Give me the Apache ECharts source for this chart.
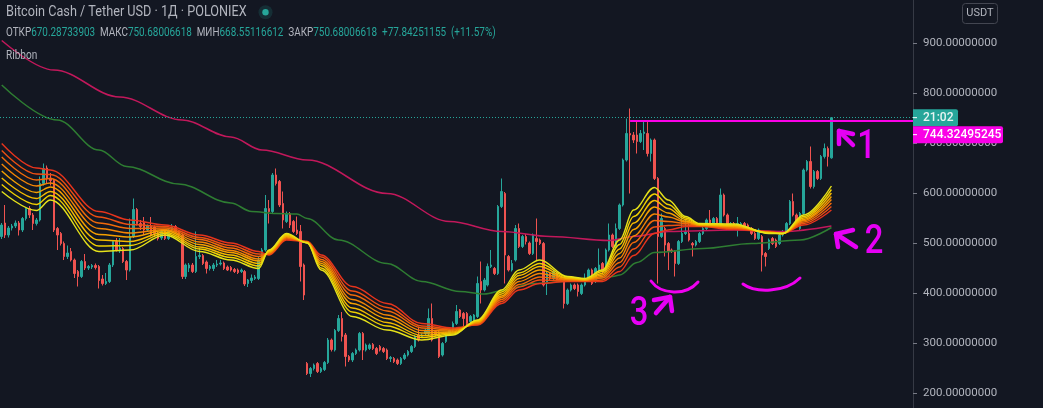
<!DOCTYPE html>
<html><head><meta charset="utf-8">
<script src="https://cdn.jsdelivr.net/npm/echarts@6/dist/echarts.min.js"></script>
<style>html,body{margin:0;padding:0;background:#131722;overflow:hidden}#c{width:1043px;height:408px}</style>
</head><body><div id="c"></div>
<script>
// ---- candles (daily) ----
const opens = [
513,540,516,530,534,540,526,549,569,556,
539,546,619,650,630,625,529,519,499,473,
483,466,443,433,463,450,452,455,453,428,
419,423,456,503,486,489,463,446,513,567,
539,541,526,534,532,519,510,523,509,526,
533,523,516,433,450,456,443,473,475,462,
449,449,456,458,460,452,451,447,446,443,
443,419,425,429,429,466,486,569,563,636,
623,579,543,559,543,526,523,456,259,239,
249,259,243,247,261,306,286,325,349,316,
273,266,279,286,319,286,289,297,289,293,
289,286,269,269,266,259,269,276,283,293,
316,313,319,319,349,323,322,276,303,319,
326,339,366,359,359,343,346,353,423,406,
416,453,449,439,573,599,473,446,466,529,
493,513,500,479,509,506,499,419,439,429,
439,429,426,379,406,416,416,399,416,429,
446,423,446,459,446,486,516,493,529,576,
666,719,716,716,703,719,719,679,706,629,
513,529,499,486,483,459,503,519,519,499,
496,503,519,529,546,539,549,536,596,556,
536,539,536,533,539,536,529,519,509,513,
479,489,509,506,499,516,523,539,583,556,
529,559,646,663,613,643,629,673,689,670.29];
const closes = [
536,516,530,534,540,526,549,569,556,539,
546,619,649,630,625,526,516,499,473,480,
466,439,433,463,450,453,455,451,425,419,
423,456,503,486,490,463,446,513,567,539,
533,526,534,516,519,509,523,509,526,533,
523,516,433,456,456,443,473,475,459,449,
453,456,458,460,449,446,446,443,441,446,
418,426,430,432,466,486,569,563,636,619,
576,546,559,536,523,519,453,396,239,249,
256,243,249,261,306,287,325,349,313,273,
266,279,286,319,286,296,296,289,279,286,
283,269,271,263,259,269,276,283,293,313,
306,316,326,349,306,316,273,299,319,326,
339,363,353,349,339,353,356,419,406,426,
453,456,439,573,603,476,446,459,529,493,
513,503,479,516,503,499,416,439,429,443,
426,426,379,406,416,409,403,416,426,446,
419,449,456,443,486,516,493,529,576,666,
719,716,706,703,719,722,679,706,629,513,
549,496,483,483,459,503,519,522,506,496,
503,519,529,546,539,549,533,596,556,536,
539,533,539,539,529,529,519,509,526,476,
473,506,499,493,516,523,539,583,556,533,
559,646,663,613,643,629,673,689,672.84,750.68];
const lows = [
508,510,511,525,530,515,522,545,550,526,
535,543,615,620,615,522,486,495,466,468,
463,430,413,430,446,446,448,447,409,415,
416,420,452,483,480,460,426,443,510,535,
526,516,522,513,512,505,506,506,506,522,
519,512,428,428,442,440,440,468,456,439,
445,444,452,455,446,444,443,440,438,440,
414,412,420,426,426,463,483,539,560,615,
572,529,540,530,520,516,423,386,236,232,
245,240,240,244,258,283,283,322,303,253,
262,262,276,283,266,283,286,286,276,283,
280,266,262,260,256,256,266,273,280,290,
303,310,316,316,303,313,270,273,300,316,
322,336,350,333,336,340,336,350,379,403,
413,450,436,436,570,419,443,443,463,490,
490,497,476,476,466,496,413,396,426,426,
423,423,369,376,403,406,393,396,413,426,
416,420,443,440,443,483,490,490,526,573,
663,599,700,679,700,686,673,663,626,419,
510,473,446,480,433,456,500,516,503,473,
493,500,516,526,536,536,530,533,553,533,
533,530,513,530,526,526,516,506,506,443,
453,486,496,490,496,513,520,536,553,530,
526,556,643,609,609,626,626,669,653,668.55];
const highs = [
540,576,534,538,545,544,552,572,574,560,
550,633,659,655,640,628,532,522,503,495,
490,469,446,466,478,456,458,459,456,436,
440,460,506,510,510,492,466,549,589,570,
546,552,537,552,535,522,528,526,529,538,
536,526,519,459,460,460,523,490,478,465,
456,460,466,466,463,455,454,450,449,449,
446,428,437,436,473,490,596,586,640,649,
626,603,563,562,546,553,536,459,262,252,
259,262,252,264,310,309,328,356,362,320,
276,282,289,322,322,299,299,300,292,296,
292,289,274,272,269,272,280,286,296,316,
333,319,329,369,379,326,325,302,322,329,
343,376,368,362,362,356,358,433,463,430,
459,486,452,576,629,602,476,466,536,539,
516,518,503,519,549,509,502,442,442,446,
442,432,429,409,419,419,419,419,439,449,
449,452,489,462,489,539,519,539,579,669,
749,769,722,746,726,746,746,709,709,632,
559,532,502,489,486,506,556,546,539,502,
506,522,532,549,566,552,552,609,599,559,
542,542,552,542,542,539,532,522,529,516,
482,509,512,509,519,526,542,586,599,559,
562,649,666,693,646,646,676,699,693,750.68];
const emptyDaysRight = 23;

// ---- moving averages (candle index, value) ----
const ema200Idx = [0,15,34,52,66,75,88,111,129,144,158,175,182,192,211,225,239];
const ema200Val = [905,846,792,746,712,686,666,599,543,523,513,505,513,523,526,523,534];
const ema100Idx = [0,16,28,36,51,66,72,79,85,88,97,111,121,132,139,145,153,168,176,178,183,188,202,216,230,239];
const ema100Val = [816,746,686,653,618,580,563,559,558,549,506,459,423,403,398,406,419,426,433,436,461,481,489,499,506,531];
const ribbonIdx = [0,10,14,28,37,47,57,66,74,77,82,88,92,101,111,121,130,137,144,149,155,163,168,173,178,182,188,192,197,201,211,221,225,231,239];
const ribbon0 = [603,565,586,483,486,516,483,466,449,486,519,500,446,353,326,306,316,346,406,446,466,433,429,446,506,566,611,586,553,539,538,519,519,556,614];
const ribbon1 = [617,577,595,494,495,519,488,471,454,485,517,500,450,362,334,311,318,345,402,440,459,432,428,443,497,553,598,577,550,538,536,520,519,553,607];
const ribbon2 = [630,589,603,506,503,522,492,476,459,483,515,501,455,370,341,315,320,343,398,435,453,430,427,439,488,540,585,569,547,537,535,520,519,550,600];
const ribbon3 = [644,601,612,517,512,525,497,481,464,482,513,501,459,379,349,320,322,342,394,429,446,429,426,436,479,527,572,560,544,536,533,521,519,547,593];
const ribbon4 = [658,614,620,529,520,527,502,485,468,480,512,502,463,387,356,325,324,340,391,423,439,427,426,433,470,514,558,552,542,536,532,521,519,545,587];
const ribbon5 = [672,626,629,540,529,530,507,490,473,479,510,502,467,396,364,330,326,339,387,417,432,426,425,430,461,501,545,543,539,535,530,522,519,542,580];
const ribbon6 = [685,638,637,552,537,533,511,495,478,477,508,503,472,404,371,334,328,337,383,412,426,424,424,426,452,488,532,535,536,534,529,522,519,539,573];
const ribbon7 = [699,650,646,563,546,536,516,500,483,476,506,503,476,413,379,339,330,336,379,406,419,423,423,423,443,475,519,526,533,533,527,523,519,536,566];

const tickValues = [200,300,400,500,600,700,800,900];
const lastClose = 750.68;
const lineLevel = 744.32495245;
const lineStartIdx = 181;

// ---- build ----
const N = opens.length + emptyDaysRight;
const categories = Array.from({length:N}, (_, i) => 'D' + i);
const candleData = opens.map((o, i) => [o, closes[i], lows[i], highs[i]]);
const pairs = (idx, vals) => idx.map((x, k) => [x, vals[k]]);

const ribbons = [ribbon7, ribbon6, ribbon5, ribbon4, ribbon3, ribbon2, ribbon1, ribbon0];
const ribbonColors = ['#e8341c','#ec4f12','#f06a0a','#f38504','#f5a000','#f4ba00','#f0d000','#e6e21a'];

const lineSeries = (vals, idx, color, w) => ({
  type: 'line', xAxisIndex: 1, yAxisIndex: 0,
  data: pairs(idx, vals), showSymbol: false, symbol: 'none',
  smooth: 0.35, smoothMonotone: 'x', silent: true, z: 3,
  lineStyle: {color: color, width: w}
});

const series = [{
  type: 'candlestick', xAxisIndex: 0, yAxisIndex: 0,
  data: candleData, barWidth: 2, z: 2,
  itemStyle: {color: '#26a69a', color0: '#ef5350', borderColor: '#26a69a', borderColor0: '#ef5350', borderWidth: 1}
}];
const pink = lineSeries(ema200Val, ema200Idx, '#c2185b', 1.5);
pink.markLine = {
  silent: true, symbol: ['none','none'], animation: false,
  label: {show: false},
  data: [
    {yAxis: lastClose, lineStyle: {color: '#26a69a', type: [1,2], width: 1}},
    [{coord: [lineStartIdx, lineLevel], lineStyle: {color: '#fa00e6', width: 2, type: 'solid'}}, {coord: [N - 0.5, lineLevel]}]
  ]
};
series.push(pink);
series.push(lineSeries(ema100Val, ema100Idx, '#2e7d32', 1.5));
ribbons.forEach((r, k) => series.push(lineSeries(r, ribbonIdx, ribbonColors[k], 1.4)));

const chart = echarts.init(document.getElementById('c'));
chart.setOption({
  backgroundColor: '#131722',
  animation: false,
  grid: {left: 0, right: 130, top: 0, bottom: 0},
  xAxis: [
    {type: 'category', data: categories, boundaryGap: true, show: false},
    {type: 'value', min: -0.5, max: N - 0.5, show: false}
  ],
  yAxis: {
    type: 'value', position: 'right', min: 170, max: 986,
    splitLine: {show: false},
    axisLine: {show: true, onZero: false, lineStyle: {color: '#363a45', width: 1}},
    axisTick: {show: true, customValues: tickValues, length: 4, lineStyle: {color: '#787b86'}},
    axisLabel: {customValues: tickValues, formatter: v => v.toFixed(8), color: '#b2b5be', fontSize: 11.5, fontFamily: 'Roboto', margin: 10}
  },
  series: series
});

const yLast = chart.convertToPixel({yAxisIndex: 0}, lastClose);
const axisX = 913;
const magenta = '#e600f5';
const arcStyle = {fill:'none', stroke:'#f000f0', lineWidth:3, lineCap:'round'};
const arrowStyle = {fill:'none', stroke:magenta, lineWidth:4.5, lineCap:'round', lineJoin:'round'};
const digitFont = '500 40px Roboto';
const els = [
  {type:'text', x:6, y:12.5, scaleX:0.905, style:{text:'Bitcoin Cash / Tether USD · 1Д · POLONIEX', fill:'#b2b5be', font:'14px Roboto', verticalAlign:'middle'}},
  {type:'circle', shape:{cx:265.5, cy:12.3, r:7}, style:{fill:'rgba(38,166,154,0.16)'}},
  {type:'circle', shape:{cx:265.5, cy:12.3, r:3.2}, style:{fill:'#26a69a'}},
  {type:'text', x:6, y:33, scaleX:0.826, style:{
    text:'{g|ОТКР}{v|670.28733903}  {g|МАКС}{v|750.68006618}  {g|МИН}{v|668.55116612}  {g|ЗАКР}{v|750.68006618}  {v|+77.84251155}  {v|(+11.57%)}',
    font:'12px Roboto', fill:'#26a69a', verticalAlign:'middle',
    rich:{g:{fill:'#b2b5be', font:'12px Roboto'}, v:{fill:'#26a69a', font:'12px Roboto'}}}},
  {type:'text', x:6, y:56, scaleX:0.84, style:{text:'Ribbon', fill:'#b2b5be', font:'12px Roboto', verticalAlign:'middle'}},
  {type:'rect', shape:{x:962.5, y:3.5, width:35, height:20, r:3}, style:{fill:'none', stroke:'#434651', lineWidth:1}},
  {type:'text', x:980, y:13.5, style:{text:'USDT', fill:'#b2b5be', font:'11px Roboto', align:'center', verticalAlign:'middle'}},
  {type:'rect', shape:{x:axisX, y:yLast-8.5, width:45, height:17, r:[0,2,2,0]}, style:{fill:'#26a69a'}},
  {type:'line', shape:{x1:axisX, y1:yLast, x2:axisX+4, y2:yLast}, style:{stroke:'#ffffff', lineWidth:1}},
  {type:'text', x:923, y:yLast, style:{text:'21:02', fill:'#e8f5f3', font:'500 12px Roboto', verticalAlign:'middle'}},
  {type:'rect', shape:{x:axisX, y:yLast+8.5, width:90, height:17, r:[0,2,2,0]}, style:{fill:'#fa00e6'}},
  {type:'line', shape:{x1:axisX, y1:yLast+17, x2:axisX+4, y2:yLast+17}, style:{stroke:'#ffffff', lineWidth:1}},
  {type:'text', x:923, y:yLast+17, style:{text:'744.32495245', fill:'#ffffff', font:'500 12px Roboto', verticalAlign:'middle'}},
  // hand-drawn annotations
  {type:'bezierCurve', shape:{x1:651, y1:281, cpx1:661, cpy1:295, cpx2:686, cpy2:296, x2:698, y2:282}, style:arcStyle},
  {type:'bezierCurve', shape:{x1:743, y1:284, cpx1:755, cpy1:293, cpx2:785, cpy2:293, x2:800, y2:278}, style:arcStyle},
  {type:'polyline', shape:{points:[[656,313],[670,297]]}, style:arrowStyle},
  {type:'polyline', shape:{points:[[654,300],[670,297],[672,311]]}, style:arrowStyle},
  {type:'polyline', shape:{points:[[853,145],[839,131]]}, style:arrowStyle},
  {type:'polyline', shape:{points:[[839,144],[839,131],[853,134]]}, style:arrowStyle},
  {type:'polyline', shape:{points:[[856,247],[836,234]]}, style:arrowStyle},
  {type:'polyline', shape:{points:[[838,247],[836,234],[853,230]]}, style:arrowStyle},
  {type:'text', x:866.5, y:147.5, scaleX:0.82, style:{text:'1', fill:magenta, font:digitFont, align:'center', verticalAlign:'middle'}},
  {type:'text', x:874, y:242.5, scaleX:0.82, style:{text:'2', fill:magenta, font:digitFont, align:'center', verticalAlign:'middle'}},
  {type:'text', x:639, y:315, scaleX:0.82, style:{text:'3', fill:magenta, font:digitFont, align:'center', verticalAlign:'middle'}}
];
els.forEach(e => { e.z = 100; e.silent = true; });
chart.setOption({graphic: {elements: els}});
</script>
</body></html>
